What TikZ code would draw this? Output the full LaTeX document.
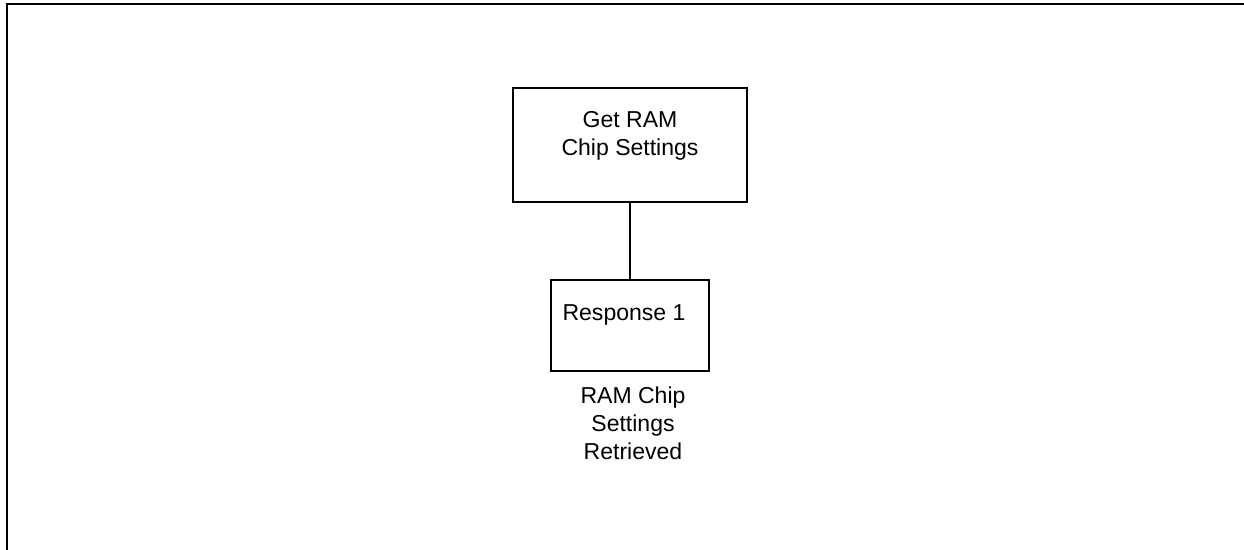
\documentclass[tikz,border=0pt]{standalone}
\usepackage{fontspec}
\setmainfont{Liberation Sans}
\usepackage{xcolor}
\usetikzlibrary{positioning, calc}
\definecolor{linegray}{RGB}{0,0,0}

\begin{document}
\begin{tikzpicture}[
				stepbox/.style={rectangle, draw=linegray, line width=0.8pt, fill=white},
				label/.style={align=center, inner sep=0pt, font=\fontsize{13.1}{15.9}\selectfont},
				link/.style={draw=linegray, line width=0.8pt},
				frameline/.style={draw=linegray, line width=1.2pt}
			]
			\useasboundingbox (0,0) rectangle (24.88,11);

			% Outer frame (left and top only)
			\coordinate (frame_bl) at (0.14,0);
			\coordinate (frame_tl) at (0.14,10.92);
			\coordinate (frame_tr) at (24.88,10.92);
			\draw [frameline] (frame_bl) -- (frame_tl) -- (frame_tr);

			% Request box
			\node (get_ram) [stepbox, minimum width=4.68cm, minimum height=2.28cm] at (12.6,8.1) {};
			\node (get_ram_text) [label] at (12.6,8.28) {Get RAM\\Chip Settings};

			% Response box
			\node (response) [stepbox, minimum width=3.16cm, minimum height=1.82cm] at (12.6,4.49) {};
			\node (response_text) [label] at (12.48,4.7) {Response 1};

			% Outcome label
			\node (retrieved) [label] at (12.66,2.54) {RAM Chip\\Settings\\Retrieved};

			% Connector
			\draw [link] (get_ram.south) -- (response.north);

		\end{tikzpicture}
\end{document}
